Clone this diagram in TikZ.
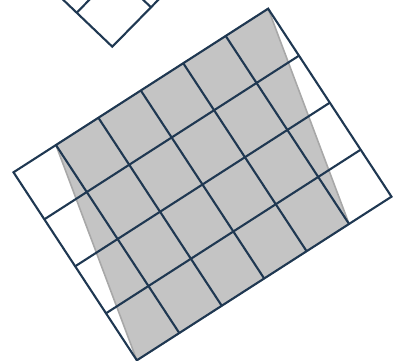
\documentclass[tikz,border=0pt]{standalone}
\definecolor{gridc}{HTML}{1F3852}
\definecolor{shadefill}{HTML}{C4C4C4}
\definecolor{shadeedge}{HTML}{A8A8A8}
\begin{document}
\begin{tikzpicture}[x=1pt,y=-1pt,
  gridline/.style={draw=gridc,line width=2.1pt,line join=miter}]
\useasboundingbox (0,0) rectangle (394,361);
\clip (0,0) rectangle (394,361);
% small rotated grid at the top
\begin{scope}[shift={(112.3pt,-46.7pt)},x={(-35.6pt,34pt)},y={(38.7pt,39.4pt)}]
  \coordinate (s0) at (0,0);
  \draw[gridline] (3,0) -- (s0) -- (0,3);
  \draw[gridline] (1,0) -- (1,3);
  \draw[gridline] (0,1) -- (3,1);
\end{scope}
% main grid
\begin{scope}[shift={(13.5pt,-172.3pt)},x={(42.44pt,27.27pt)},y={(30.84pt,-47pt)}]
  \coordinate (g1) at (1,0);
  \coordinate (g2) at (6,0);
  \coordinate (g3) at (5,4);
  \coordinate (g4) at (0,4);
  \filldraw[fill=shadefill,draw=shadeedge,line width=1.6pt] (g1) -- (g2) -- (g3) -- (g4) -- cycle;
  \foreach \i in {1,...,5} \draw[gridline] (\i,0) -- (\i,4);
  \foreach \j in {1,...,3} \draw[gridline] (0,\j) -- (6,\j);
  \draw[gridline] (0,0) -- (6,0) -- (6,4) -- (0,4) -- cycle;
\end{scope}
\end{tikzpicture}
\end{document}
